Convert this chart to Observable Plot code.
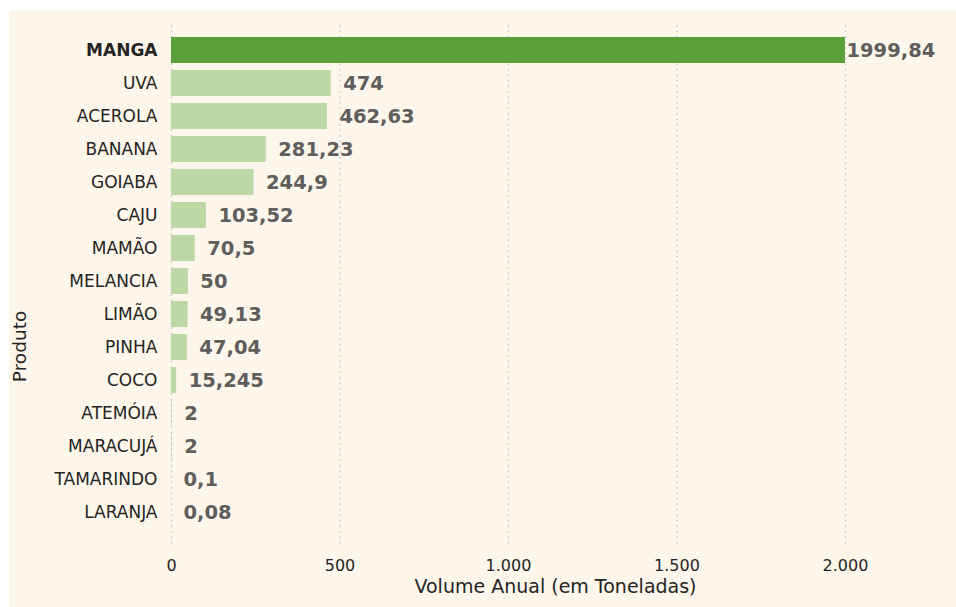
<!DOCTYPE html>
<html>
<head>
<meta charset="utf-8">
<script src="https://cdn.jsdelivr.net/npm/d3@7"></script>
<script src="https://cdn.jsdelivr.net/npm/@observablehq/plot@0.6"></script>
<style>
  html, body { margin: 0; padding: 0; background: #ffffff; }
  #chart { position: absolute; left: 9px; top: 11px; }
</style>
</head>
<body>
<div id="chart"></div>
<script>
const produtos = ["MANGA","UVA","ACEROLA","BANANA","GOIABA","CAJU","MAMÃO","MELANCIA","LIMÃO","PINHA","COCO","ATEMÓIA","MARACUJÁ","TAMARINDO","LARANJA"];
const volumes = [1999.84, 474, 462.63, 281.23, 244.9, 103.52, 70.5, 50, 49.13, 47.04, 15.245, 2, 2, 0.1, 0.08];
const xTicks = [0, 500, 1000, 1500, 2000];
const xLabel = "Volume Anual (em Toneladas)";
const yLabel = "Produto";
const destaque = "MANGA";

const data = produtos.map((p, i) => ({p, v: volumes[i]}));
const ptBR = d3.formatLocale({decimal: ",", thousands: ".", grouping: [3], currency: ["R$", ""]});
const tickFmt = ptBR.format(",d");
const valFmt = v => String(v).replace(".", ",");

const dark = "#5A9F3A", light = "#BDD7A7";
const textColor = "#252423", valColor = "#605E5C";

const chart = Plot.plot({
  width: 947,
  height: 596,
  marginLeft: 162,
  marginRight: 111,
  marginTop: 18,
  marginBottom: 74,
  style: {background: "#FDF6EB", fontFamily: "'DejaVu Sans', sans-serif", color: textColor},
  x: {domain: [0, 2000], label: null},
  y: {domain: produtos, padding: 0.2, label: null},
  marks: [
    Plot.ruleX(xTicks, {stroke: "#c8c8c8", strokeWidth: 1.5, strokeDasharray: "1.5,4", insetTop: -4, insetBottom: -15}),
    Plot.barX(data, {x: "v", y: "p", fill: d => d.p === destaque ? dark : light}),
    Plot.axisX({ticks: xTicks, tickSize: 0, tickPadding: 26, tickFormat: tickFmt, fontSize: 16, label: null}),
    Plot.axisY({tickSize: 0, tickPadding: 14, fontSize: 17, label: null}),
    Plot.text(data.filter(d => d.p !== destaque), {x: "v", y: "p", text: d => valFmt(d.v), textAnchor: "start", dx: 12, fontSize: 19.5, fontWeight: "bold", fill: valColor}),
    Plot.text(data.filter(d => d.p === destaque), {x: "v", y: "p", text: d => valFmt(d.v), textAnchor: "start", dx: 1, fontSize: 19.5, fontWeight: "bold", fill: valColor}),
    Plot.text([xLabel], {frameAnchor: "bottom", dy: 59, dx: 47, fontSize: 19, fontWeight: 500, fill: textColor}),
    Plot.text([yLabel], {frameAnchor: "left", textAnchor: "middle", rotate: -90, dx: -151, dy: 65, fontSize: 18.5, fontWeight: 500, fill: textColor})
  ]
});

d3.select(chart).selectAll("text").filter(function() { return this.textContent === destaque; }).attr("font-weight", "bold");
document.getElementById("chart").appendChild(chart);
</script>
</body>
</html>
